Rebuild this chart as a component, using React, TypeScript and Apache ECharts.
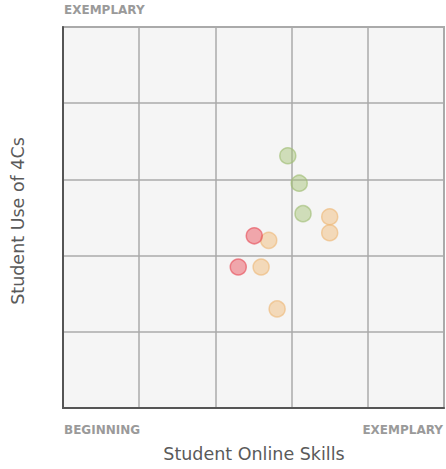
import React, { useEffect, useRef } from "react";
import * as echarts from "echarts";

const greenPoints: [number, number][] = [
  [2.95, 3.31],
  [3.1, 2.95],
  [3.15, 2.55],
];
const orangePoints: [number, number][] = [
  [3.5, 2.51],
  [3.5, 2.3],
  [2.7, 2.2],
  [2.6, 1.85],
  [2.81, 1.3],
];
const redPoints: [number, number][] = [
  [2.51, 2.26],
  [2.3, 1.85],
];
const xTitle = "Student Online Skills";
const yTitle = "Student Use of 4Cs";
const lowLabel = "BEGINNING";
const highLabel = "EXEMPLARY";

export default function App() {
  const ref = useRef<HTMLDivElement>(null);
  useEffect(() => {
    if (!ref.current) return;
    const chart = echarts.init(ref.current, undefined, { renderer: "svg" });
    const font = "'DejaVu Sans', sans-serif";
    const mk = (name: string, data: [number, number][], fill: string, border: string) => ({
      type: "scatter",
      name,
      data,
      symbolSize: 16,
      itemStyle: { color: fill, borderColor: border, borderWidth: 1.5 },
    });
    chart.setOption({
      animation: false,
      grid: {
        left: 63,
        top: 27,
        right: 2,
        bottom: 61,
        show: true,
        backgroundColor: "#f5f5f5",
        borderColor: "#aaaaaa",
        borderWidth: 2,
      },
      xAxis: {
        type: "value",
        min: 0,
        max: 5,
        interval: 1,
        axisLabel: { show: false },
        axisTick: { show: false },
        axisLine: { show: true, onZero: false, lineStyle: { color: "#555555", width: 2 } },
        splitLine: { show: true, lineStyle: { color: "#aaaaaa", width: 1.5 } },
      },
      yAxis: {
        type: "value",
        min: 0,
        max: 5,
        interval: 1,
        axisLabel: { show: false },
        axisTick: { show: false },
        axisLine: { show: true, onZero: false, lineStyle: { color: "#555555", width: 2 } },
        splitLine: { show: true, lineStyle: { color: "#aaaaaa", width: 1.5 } },
      },
      series: [
        mk("green", greenPoints, "rgba(165,195,120,0.6)", "rgba(160,190,115,0.8)"),
        mk("orange", orangePoints, "rgba(240,185,120,0.6)", "rgba(238,185,120,0.8)"),
        mk("red", redPoints, "rgba(235,80,90,0.6)", "rgba(232,80,90,0.8)"),
      ],
      graphic: [
        {
          type: "text",
          x: 64,
          y: 10,
          style: { text: highLabel, fill: "#9a9a9a", font: `bold 12px ${font}`, verticalAlign: "middle" },
        },
        {
          type: "text",
          x: 64,
          y: 430,
          style: { text: lowLabel, fill: "#9a9a9a", font: `bold 12px ${font}`, verticalAlign: "middle" },
        },
        {
          type: "text",
          x: 443,
          y: 430,
          style: {
            text: highLabel,
            fill: "#9a9a9a",
            font: `bold 12px ${font}`,
            align: "right",
            verticalAlign: "middle",
          },
        },
        {
          type: "text",
          x: 254,
          y: 454,
          style: {
            text: xTitle,
            fill: "#5a5a5a",
            font: `17.5px ${font}`,
            align: "center",
            verticalAlign: "middle",
          },
        },
        {
          type: "text",
          x: 18,
          y: 221,
          rotation: Math.PI / 2,
          style: {
            text: yTitle,
            fill: "#5a5a5a",
            font: `17.5px ${font}`,
            align: "center",
            verticalAlign: "middle",
          },
        },
      ],
    });
    return () => chart.dispose();
  }, []);
  return (
    <div
      ref={ref}
      style={{ position: "absolute", left: 0, top: 0, width: 446, height: 469 }}
    />
  );
}
